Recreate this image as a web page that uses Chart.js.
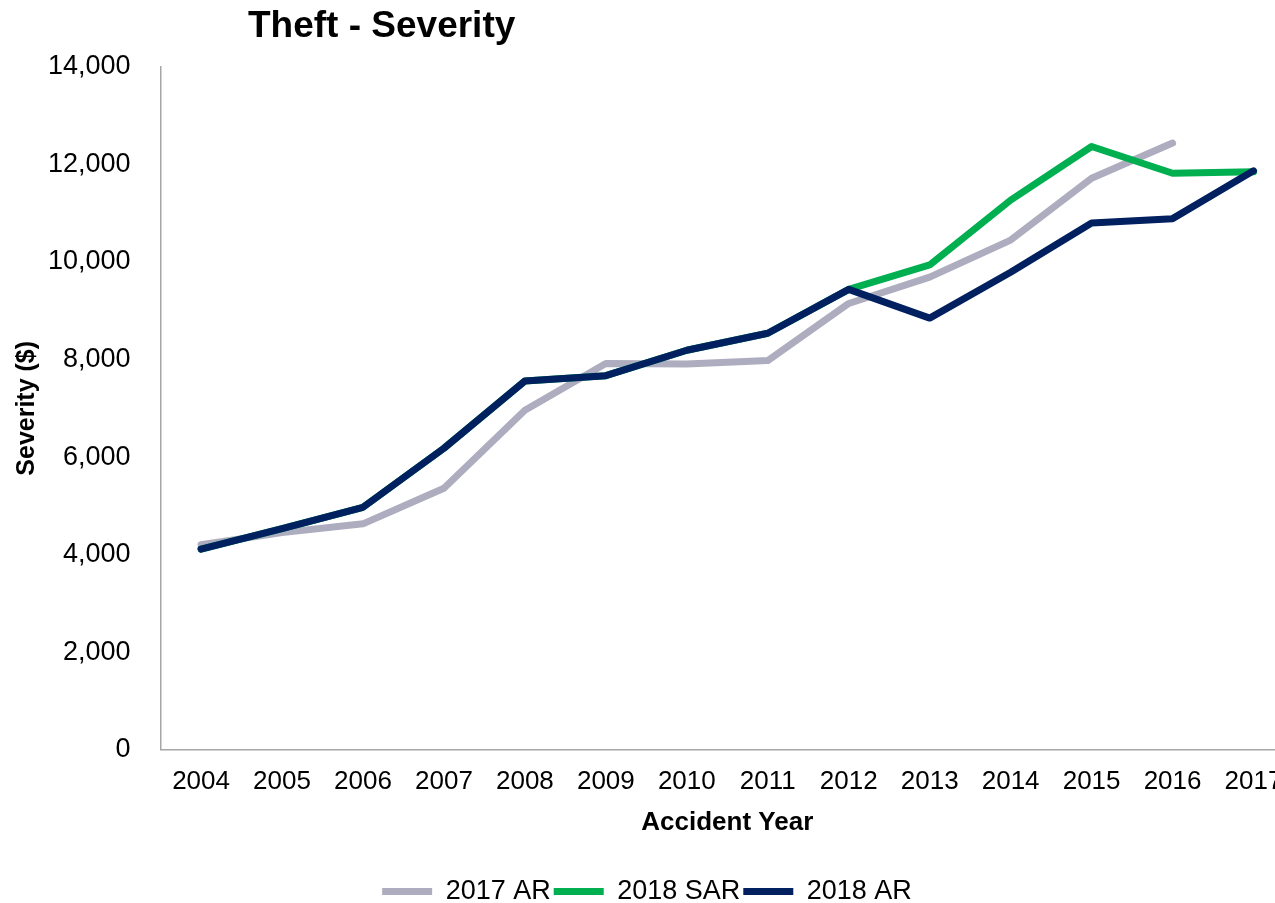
<!DOCTYPE html>
<html>
<head>
<meta charset="utf-8">
<script src="https://cdn.jsdelivr.net/npm/chart.js@4/dist/chart.umd.min.js"></script>
<style>
  html, body { margin: 0; padding: 0; background: #fff; overflow: hidden; }
  #wrap { position: relative; width: 1300px; height: 903px; }
</style>
</head>
<body>
<div id="wrap"><canvas id="c" width="1300" height="903"></canvas></div>
<script>
const chartTitle = 'Theft - Severity';
const years = ['2004','2005','2006','2007','2008','2009','2010','2011','2012','2013','2014','2015','2016','2017'];
const ar2017 = [4200, 4450, 4630, 5360, 6960, 7920, 7910, 7980, 9150, 9690, 10450, 11720, 12440, null];
const sar2018 = [4110, 4530, 4970, 6180, 7560, 7670, 8190, 8540, 9440, 9940, 11270, 12370, 11820, 11850];
const ar2018 = [4110, 4530, 4970, 6180, 7560, 7670, 8190, 8540, 9440, 8850, 9790, 10800, 10890, 11870];
const yTicks = [0, 2000, 4000, 6000, 8000, 10000, 12000, 14000];

const FONT = 'Liberation Sans, Arial, sans-serif';

const titlePlugin = {
  id: 'fixedTitle',
  afterDraw(chart) {
    const ctx = chart.ctx;
    ctx.save();
    ctx.font = 'bold 37px ' + FONT;
    ctx.fillStyle = '#000';
    ctx.textBaseline = 'middle';
    ctx.textAlign = 'left';
    ctx.fillText(chartTitle, 248, 27);
    ctx.restore();
  }
};

function mk(label, data, color, order) {
  return {
    label, data,
    borderColor: color, backgroundColor: color,
    borderWidth: 7, pointRadius: 0, pointHoverRadius: 0,
    tension: 0, borderCapStyle: 'round', borderJoinStyle: 'round',
    spanGaps: false, order
  };
}

new Chart(document.getElementById('c'), {
  type: 'line',
  data: {
    labels: years,
    datasets: [
      mk('2017 AR', ar2017, '#ADADBF', 3),
      mk('2018 SAR', sar2018, '#00B050', 2),
      mk('2018 AR', ar2018, '#002060', 1)
    ]
  },
  options: {
    responsive: false,
    animation: false,
    layout: { padding: { top: 67, right: 6, left: 0, bottom: -12 } },
    plugins: {
      title: { display: false },
      tooltip: { enabled: false },
      legend: {
        display: true,
        position: 'bottom',
        labels: {
          font: { family: FONT, size: 27 },
          color: '#000',
          boxWidth: 50,
          boxHeight: 7,
          padding: 3,
          sort: (a, b) => a.datasetIndex - b.datasetIndex,
          generateLabels(chart) {
            const items = Chart.defaults.plugins.legend.labels.generateLabels(chart);
            items.forEach(it => { it.lineWidth = 0; it.strokeStyle = 'rgba(0,0,0,0)'; });
            return items;
          }
        }
      }
    },
    scales: {
      x: {
        offset: true,
        grid: { display: false, drawTicks: false },
        border: { display: true, color: '#A6A6A6', width: 1.5 },
        ticks: { font: { family: FONT, size: 26 }, color: '#000', padding: 17, maxRotation: 0, autoSkip: false },
        title: { display: true, text: 'Accident Year', font: { family: FONT, size: 26, weight: 'bold' }, color: '#000', padding: { top: -8, bottom: 37 } }
      },
      y: {
        min: 0, max: 14000,
        afterBuildTicks(axis) { axis.ticks = yTicks.map(v => ({ value: v })); },
        grid: { display: false, drawTicks: false },
        border: { display: true, color: '#A6A6A6', width: 1.5 },
        ticks: {
          font: { family: FONT, size: 27 }, color: '#000', padding: 30,
          callback: v => v.toLocaleString('en-US')
        },
        title: { display: true, text: 'Severity ($)', font: { family: FONT, size: 25, weight: 'bold' }, color: '#000', padding: { top: 12, bottom: -24 } }
      }
    }
  },
  plugins: [titlePlugin]
});
</script>
</body>
</html>
